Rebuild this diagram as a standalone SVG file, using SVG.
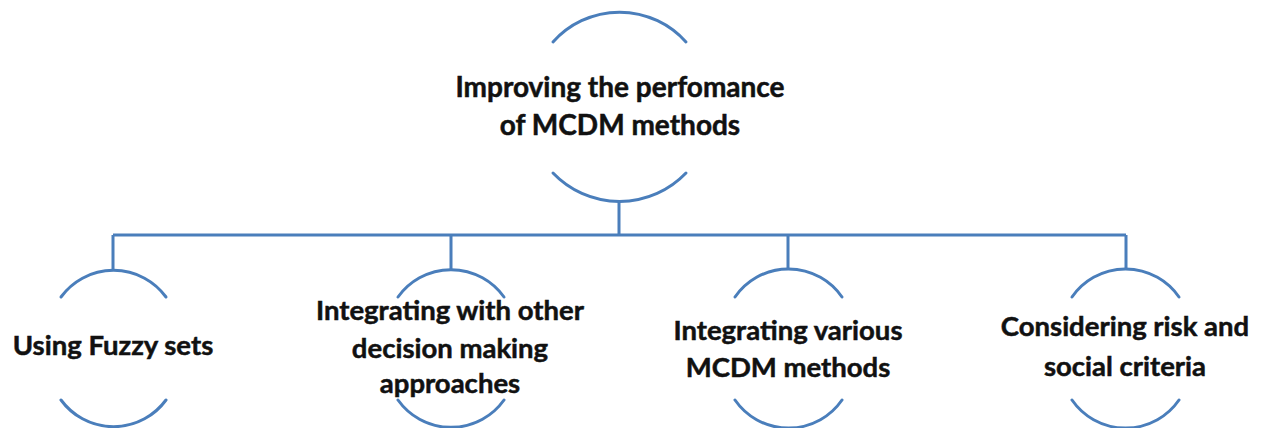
<svg xmlns="http://www.w3.org/2000/svg" width="1267" height="428" viewBox="0 0 1267 428">
<style>
.arc{fill:none;stroke:#4a7ebb;stroke-width:3;stroke-linecap:round}
.con{fill:none;stroke:#4a7ebb;stroke-width:3}
.t{font-family:Lato,"Open Sans",sans-serif;font-weight:700;fill:#111;stroke:#111;stroke-width:0.5;text-anchor:middle}
.tt{font-size:28px}
.ct{font-size:27.5px}
</style>
<rect width="1267" height="428" fill="#fff"/>
<g id="connectors">
<path class="con" d="M619,201 V235 M113,235 H1126 M113,235 V270 M451,235 V270 M788,235 V270 M1126,235 V270"/>
</g>
<g id="top">
<path class="arc" d="M553,42 A89,89 0 0 1 686,42"/>
<path class="arc" d="M553,173 A92,92 0 0 0 686,173"/>
<text class="t tt" x="620" y="97">Improving the perfomance</text>
<text class="t tt" x="620" y="135">of MCDM methods</text>
</g>
<g id="n1">
<path class="arc" d="M61,297 A65,65 0 0 1 166,297"/>
<path class="arc" d="M61,400 A65,65 0 0 0 166,400"/>
<text class="t ct" x="113" y="355">Using Fuzzy sets</text>
</g>
<g id="n2">
<path class="arc" d="M398,297 A65,65 0 0 1 504,297"/>
<path class="arc" d="M398,400 A65,65 0 0 0 504,400"/>
<text class="t ct" x="450" y="320">Integrating with other</text>
<text class="t ct" x="450" y="358">decision making</text>
<text class="t ct" x="450" y="393">approaches</text>
</g>
<g id="n3">
<path class="arc" d="M735,297 A65,65 0 0 1 842,297"/>
<path class="arc" d="M735,400 A65,65 0 0 0 842,400"/>
<text class="t ct" x="788" y="340">Integrating various</text>
<text class="t ct" x="788" y="377">MCDM methods</text>
</g>
<g id="n4">
<path class="arc" d="M1072,297 A65,65 0 0 1 1179,297"/>
<path class="arc" d="M1072,400 A65,65 0 0 0 1179,400"/>
<text class="t ct" x="1125" y="336">Considering risk and</text>
<text class="t ct" x="1125" y="376">social criteria</text>
</g>
</svg>
